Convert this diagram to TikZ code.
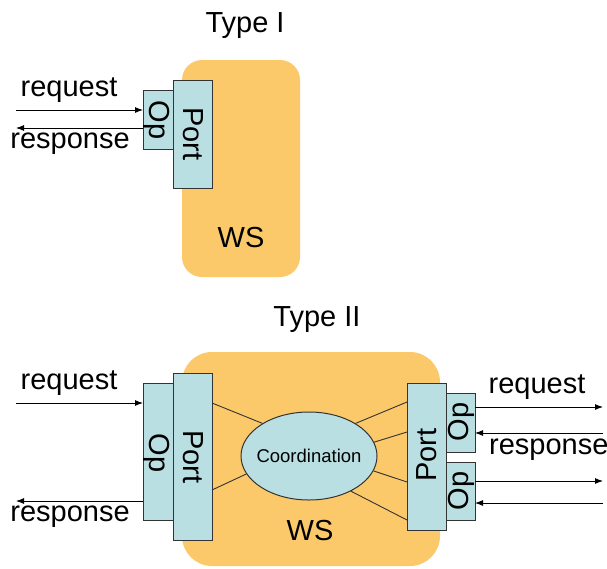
\documentclass[tikz,border=0pt]{standalone}
\usepackage{fontspec}
\setmainfont{Liberation Sans}
\usetikzlibrary{arrows.meta,shapes.geometric}
\definecolor{wsorange}{HTML}{FCC96A}
\definecolor{portblue}{HTML}{B9DFE2}
\definecolor{edge}{HTML}{333333}
\begin{document}
\begin{tikzpicture}[x=1pt,y=-1pt,
  wsbox/.style={fill=wsorange,draw=none},
  pbox/.style={fill=portblue,draw=edge,line width=1pt},
  lbl/.style={font=\fontsize{29}{31}\selectfont,inner sep=0pt},
  arr/.style={-{Latex[length=8pt,width=6pt]},line width=0.9pt,black},
  link/.style={draw=edge,line width=0.9pt}]
\useasboundingbox (0,0) rectangle (607,568);
% ---------- Type I ----------
\node[lbl] (t1) at (245,26) {Type I};
\path[wsbox,rounded corners=20pt] (182,60) rectangle (300,277);
\node[lbl] (ws1) at (241,238) {WS};
\draw[pbox] (143,90) rectangle (173,149);
\coordinate (op1w) at (143,110);
\coordinate (op1w2) at (143,128);
\draw[pbox] (173,80) rectangle (212,188);
\node[lbl,rotate=-90] (op1) at (157,120) {Op};
\node[lbl,rotate=-90] (port1) at (193,134) {Port};
\coordinate (rq1s) at (16,110);
\coordinate (rs1e) at (16,128);
\draw[arr] (rq1s) -- (op1w);
\draw[arr] (op1w2) -- (rs1e);
\node[lbl] (rq1) at (69,90) {request};
\node[lbl] (rs1) at (70,144) {response};
% ---------- Type II ----------
\node[lbl] (t2) at (317,320) {Type II};
\path[wsbox,rounded corners=30pt] (182,352) rectangle (440,566);
\node[lbl] (ws2) at (310,531) {WS};
\node[ellipse,draw=edge,line width=1pt,fill=portblue,minimum width=136pt,minimum height=88pt,inner sep=-12pt,font=\fontsize{18.5}{20}\selectfont] (coord) at (309,456) {Coordination};
% left ports
\draw[pbox] (143,383) rectangle (173,520);
\draw[pbox] (173,373) rectangle (212,540);
\node[lbl,rotate=-90] (op2) at (157,453) {Op};
\node[lbl,rotate=-90] (port2) at (193,457) {Port};
\coordinate (lp1) at (212,403);
\coordinate (lp2) at (212,490);
\draw[link] (lp1) -- (coord.145);
\draw[link] (lp2) -- (coord.196);
\coordinate (lq) at (16,403);
\coordinate (lqe) at (143,403);
\coordinate (lr) at (143,501);
\coordinate (lre) at (16,501);
\draw[arr] (lq) -- (lqe);
\draw[arr] (lr) -- (lre);
\node[lbl] (rq2) at (69,383) {request};
\node[lbl] (rs2) at (70,517) {response};
% right ports
\draw[pbox] (407,383) rectangle (446,530);
\draw[pbox] (446,393) rectangle (475,452);
\draw[pbox] (446,462) rectangle (475,520);
\node[lbl,rotate=90] (port3) at (427,455) {Port};
\node[lbl,rotate=90] (op3) at (461,422) {Op};
\node[lbl,rotate=90] (op4) at (461,491) {Op};
\coordinate (rp1) at (407,402);
\coordinate (rp2) at (407,432);
\coordinate (rp3) at (407,482);
\coordinate (rp4) at (407,520);
\draw[link] (coord.35) -- (rp1);
\draw[link] (coord.12) -- (rp2);
\draw[link] (coord.-13) -- (rp3);
\draw[link] (coord.-40) -- (rp4);
\coordinate (a1s) at (475,407); \coordinate (a1e) at (603,407);
\coordinate (a2s) at (603,433); \coordinate (a2e) at (475,433);
\coordinate (a3s) at (475,481); \coordinate (a3e) at (603,481);
\coordinate (a4s) at (603,503); \coordinate (a4e) at (475,503);
\draw[arr] (a1s) -- (a1e);
\draw[arr] (a2s) -- (a2e);
\draw[arr] (a3s) -- (a3e);
\draw[arr] (a4s) -- (a4e);
\node[lbl] (rq3) at (537,387) {request};
\node[lbl,anchor=west] (rs3) at (489,450) {response};
\end{tikzpicture}
\end{document}
